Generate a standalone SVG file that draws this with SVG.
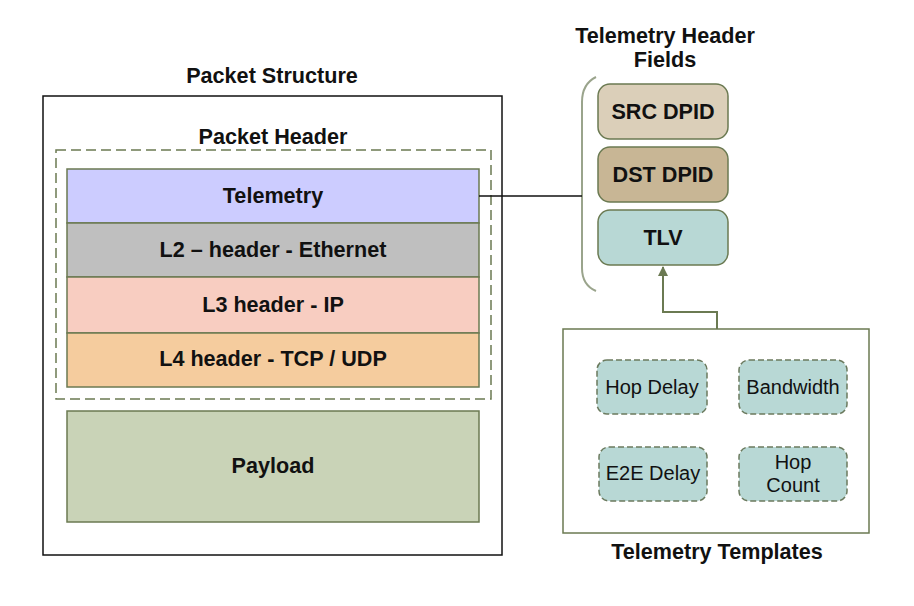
<svg xmlns="http://www.w3.org/2000/svg" width="914" height="606" viewBox="0 0 914 606">
<defs>
<style>
text{font-family:"Liberation Sans",Arial,sans-serif;font-size:20px;fill:#111;text-anchor:middle}
.b{font-weight:bold;font-size:21.6px}
.layer{stroke:#6b7a52;stroke-width:1.5}
.field{stroke:#6b7a52;stroke-width:1.5}
.tpl{fill:#b8d8d5;stroke:#6b7a5e;stroke-width:1.5;stroke-dasharray:6 3}
.conn{fill:none;stroke:#6b7a52;stroke-width:2}
</style>
<marker id="ah" viewBox="0 0 10 10" refX="9" refY="5" markerWidth="5" markerHeight="5" orient="auto"><path d="M0,0 L10,5 L0,10 z" fill="#6b7a52"/></marker>
</defs>
<rect width="914" height="606" fill="#fff"/>
<g id="packet-structure">
<rect x="43" y="96" width="459" height="459" fill="#fff" stroke="#111" stroke-width="1.5"/>
<text class="b" x="272" y="83">Packet Structure</text>
</g>
<g id="packet-header">
<rect x="56" y="150" width="435" height="249" fill="none" stroke="#6b7a52" stroke-width="1.5" stroke-dasharray="10 5"/>
<text class="b" x="273" y="144">Packet Header</text>
</g>
<g id="telemetry"><rect class="layer" x="67" y="169" width="412" height="54" fill="#ccccff"/><text class="b" x="273" y="203">Telemetry</text></g>
<g id="l2"><rect class="layer" x="67" y="223" width="412" height="54" fill="#bfbfbf"/><text class="b" x="273" y="257">L2 – header - Ethernet</text></g>
<g id="l3"><rect class="layer" x="67" y="277" width="412" height="56" fill="#f8cdc1"/><text class="b" x="273" y="312">L3 header - IP</text></g>
<g id="l4"><rect class="layer" x="67" y="333" width="412" height="54" fill="#f5cc9e"/><text class="b" x="273" y="366">L4 header - TCP / UDP</text></g>
<g id="payload"><rect class="layer" x="67" y="411" width="412" height="111" fill="#c9d3b7"/><text class="b" x="273" y="473">Payload</text></g>
<g id="telemetry-header-fields">
<text class="b" x="665" y="43">Telemetry Header</text>
<text class="b" x="665" y="67">Fields</text>
<path d="M596,77 Q582,84 582,102 L582,268 Q582,285 596,291" fill="none" stroke="#9aa48c" stroke-width="2"/>
</g>
<g id="src-dpid"><rect class="field" x="598" y="84" width="130" height="55" rx="12" fill="#dbcfb9"/><text class="b" x="663" y="119">SRC DPID</text></g>
<g id="dst-dpid"><rect class="field" x="598" y="147" width="130" height="55" rx="12" fill="#c8b695"/><text class="b" x="663" y="182">DST DPID</text></g>
<g id="tlv"><rect class="field" x="598" y="210" width="130" height="55" rx="12" fill="#b8d8d5"/><text class="b" x="663" y="245">TLV</text></g>
<g id="telemetry-templates">
<rect x="563" y="329" width="306" height="204" fill="#fff" stroke="#6b7a52" stroke-width="1.5"/>
<text class="b" x="717" y="559">Telemetry Templates</text>
</g>
<g id="hop-delay"><rect class="tpl" x="597" y="360" width="110" height="54" rx="10"/><text x="652" y="394">Hop Delay</text></g>
<g id="bandwidth"><rect class="tpl" x="739" y="360" width="108" height="54" rx="10"/><text x="793" y="394">Bandwidth</text></g>
<g id="e2e-delay"><rect class="tpl" x="599" y="447" width="108" height="54" rx="10"/><text x="653" y="480">E2E Delay</text></g>
<g id="hop-count"><rect class="tpl" x="739" y="447" width="108" height="54" rx="10"/><text x="793" y="469">Hop</text><text x="793" y="492">Count</text></g>
<g id="connectors">
<line x1="479" y1="196" x2="582" y2="196" stroke="#111" stroke-width="1.5"/>
<path class="conn" d="M717,329 L717,312 L663,312 L663,267" marker-end="url(#ah)"/>
</g>
</svg>
